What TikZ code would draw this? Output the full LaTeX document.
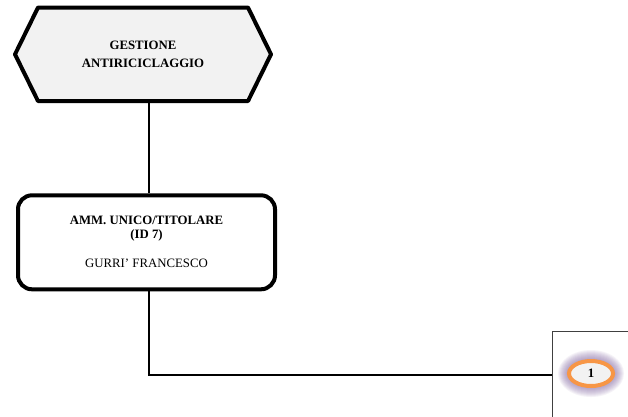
\documentclass[tikz,border=0pt]{standalone}
\usepackage{fontspec}
\setmainfont{Liberation Serif}
\usetikzlibrary{shapes.geometric}
\definecolor{hexfill}{HTML}{F2F2F2}
\definecolor{ringorange}{HTML}{F79646}
\definecolor{glowpurple}{HTML}{8064A2}

\begin{document}
\begin{tikzpicture}[x=1pt,y=-1pt,line width=1.3pt,node distance=188pt,font=\fontsize{12.8}{13.5}\selectfont,
  hex line/.style={draw,line width=4pt,fill=hexfill,line join=round},
  hex node/.style={minimum width=256pt,minimum height=93.5pt,inner sep=0pt,outer sep=2pt,align=center,font=\fontsize{12.8}{18}\selectfont\bfseries},
  box node/.style={rounded corners=14pt,draw,line width=4pt,minimum width=257pt,minimum height=94pt,align=center},
  num box/.style={draw=black!75,line width=0.8pt,fill=white,minimum width=80pt,minimum height=88pt},
  ring node/.style={ellipse,draw=ringorange,line width=4pt,fill=hexfill,minimum width=44pt,minimum height=25pt,inner sep=0pt,font=\fontsize{12.8}{13.5}\selectfont\bfseries}]
                \clip (0,0) rectangle (628,416);

                \coordinate (hexc) at (143,54.3);
                \path[hex line] ([xshift=-128pt]hexc) -- ++(23,-46.75) -- ++(210,0) -- ++(23,46.75) -- ++(-23,46.75) -- ++(-210,0) -- cycle;
                \node[hex node] (antiric) at (hexc) {GESTIONE\\ANTIRICICLAGGIO};
                \node[box node] (titolare) [below of=antiric, xshift=3.5pt]{\textbf{AMM. UNICO/TITOLARE}\\\textbf{(ID 7)}\\[16pt]GURRI' FRANCESCO};
                \node[num box] (ref1) at (592,375) {};

                \foreach \g in {1,...,10}
                    \fill[glowpurple,opacity=0.08] ([xshift=-1pt,yshift=1.5pt]ref1.center) ellipse ({23+\g} and {13.5+\g});
                \node[ring node] (n1) at ([xshift=-1pt,yshift=1.5pt]ref1.center) {1};

                \draw ([xshift=6pt]antiric.south) -- ([xshift=2.5pt]titolare.north);
                \draw ([xshift=2.5pt]titolare.south) |- (ref1.west);
            \end{tikzpicture}
\end{document}
